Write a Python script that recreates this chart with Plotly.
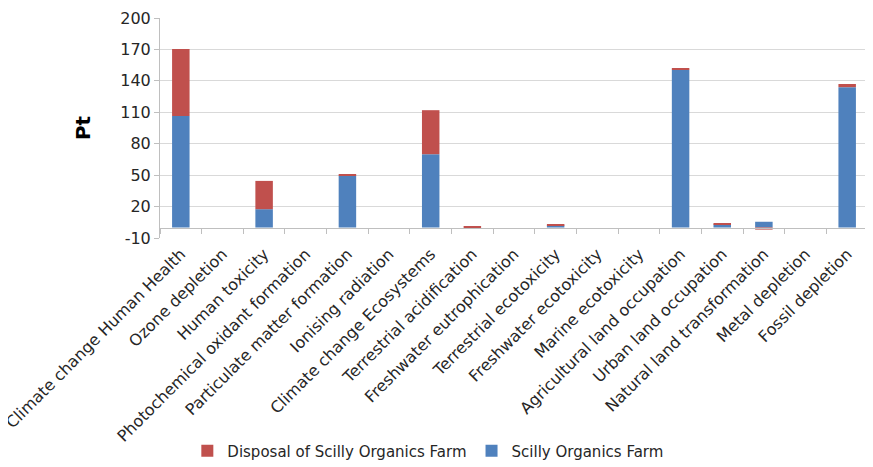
import plotly.graph_objects as go

categories = [
    "Climate change Human Health", "Ozone depletion", "Human toxicity",
    "Photochemical oxidant formation", "Particulate matter formation",
    "Ionising radiation", "Climate change Ecosystems", "Terrestrial acidification",
    "Freshwater eutrophication", "Terrestrial ecotoxicity", "Freshwater ecotoxicity",
    "Marine ecotoxicity", "Agricultural land occupation", "Urban land occupation",
    "Natural land transformation", "Metal depletion", "Fossil depletion",
]
farm = [106.5, 0, 17.5, 0, 49.5, 0, 70, 0, 0, 2, 0, 0, 150.5, 3, 5.5, 0, 134]
disposal = [64, 0, 27, 0, 1.5, 0, 42, 0.8, 0, 0.8, 0, 0, 1.5, 1, -2, 0, 3]

y_ticks = [-10, 20, 50, 80, 110, 140, 170, 200]
y_labels = ["-10", "20", "50", "80", "110", "140", "170", "200"]

font = "DejaVu Sans, sans-serif"

fig = go.Figure()
fig.add_trace(go.Bar(x=categories, y=farm, name="Scilly Organics Farm",
                     marker=dict(color="#4F81BD", line_width=0), legendrank=2))
fig.add_trace(go.Bar(x=categories, y=disposal, name="Disposal of Scilly Organics Farm",
                     marker=dict(color="#C0504D", line_width=0), legendrank=1))

# page body has an 8px margin, so the figure is a bit smaller than the window
fig.update_layout(
    barmode="relative",
    bargap=0.58,
    width=865, height=459,
    margin=dict(l=152, r=5, t=10, b=229, autoexpand=False),
    plot_bgcolor="white", paper_bgcolor="white",
    font=dict(family=font, size=15, color="#262626"),
    legend=dict(orientation="h", x=0.379, xanchor="center", y=-0.968, yanchor="middle",
                font=dict(size=15), traceorder="normal", itemwidth=30),
)
fig.update_yaxes(
    range=[-10, 200], tickvals=y_ticks, ticktext=y_labels,
    showgrid=True, gridcolor="#D9D9D9",
    zeroline=False, showline=True, linecolor="#BFBFBF", ticks="outside",
    tickcolor="#BFBFBF", ticklen=5, tickfont=dict(size=16),
    title=dict(text="<b>Pt</b>", font=dict(size=20, color="#000000"), standoff=24),
    domain=[0, 1], automargin=False,
)
fig.update_xaxes(
    anchor="free", position=10 / 210, showline=True, linecolor="#BFBFBF",
    ticks="outside", tickson="boundaries", tickcolor="#BFBFBF", ticklen=5,
    tickangle=-45, tickfont=dict(size=16), ticklabelstandoff=10,
    automargin=False,
)

fig.write_html("out.html")
